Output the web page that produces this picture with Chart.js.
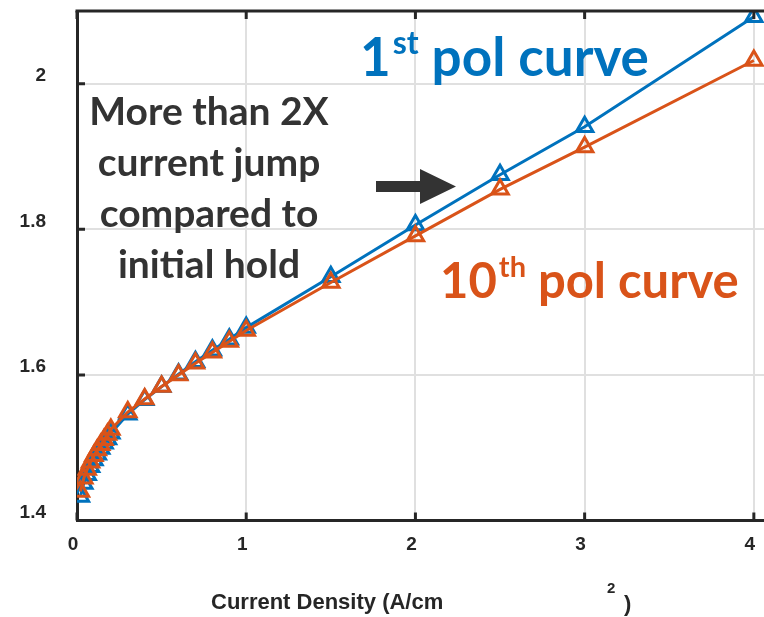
<!DOCTYPE html>
<html lang="en">
<head>
  <meta charset="UTF-8" />
  <title>Pol curves</title>
  <script src="https://cdn.jsdelivr.net/npm/chart.js"></script>
  <style>
    html, body { margin: 0; padding: 0; background: #fff; }
    canvas { display: block; }
  </style>
</head>
<body>
  <canvas id="grafica" width="764" height="617"></canvas>

  <script>
    // current density (A/cm2)
    const current = [0.02, 0.04, 0.06, 0.08, 0.1, 0.12, 0.14, 0.16, 0.18, 0.2,
                     0.3, 0.4, 0.5, 0.6, 0.7, 0.8, 0.9, 1.0, 1.5, 2.0, 2.5, 3.0, 4.0];
    // cell voltage, 1st and 10th pol curve
    const pol1 = [1.433, 1.451, 1.463, 1.474, 1.483, 1.491, 1.499, 1.506, 1.512, 1.520,
                  1.546, 1.566, 1.584, 1.601, 1.618, 1.634, 1.649, 1.665, 1.735, 1.806, 1.875, 1.941, 2.092];
    const pol10 = [1.440, 1.458, 1.470, 1.480, 1.489, 1.497, 1.504, 1.511, 1.518, 1.525,
                   1.549, 1.567, 1.584, 1.600, 1.616, 1.631, 1.646, 1.661, 1.727, 1.791, 1.855, 1.913, 2.032];
    const xTicks = [0, 1, 2, 3, 4];
    const yTicks = [1.4, 1.6, 1.8, 2];

    const AXIS = '#262626';
    const BLUE = '#0072BD';
    const ORANGE = '#D95319';
    const tickFont = { family: 'Liberation Sans', weight: 'bold', size: 19 };

    // inner tick marks, top border, annotations and axis title
    const extras = {
      id: 'extras',
      afterDraw(chart) {
        const { ctx, chartArea: a, scales: { x, y } } = chart;
        ctx.save();
        ctx.strokeStyle = AXIS;
        ctx.lineWidth = 3;
        ctx.beginPath();
        ctx.moveTo(a.left - 1.5, a.top);
        ctx.lineTo(a.right, a.top);
        ctx.stroke();

        ctx.beginPath();
        yTicks.forEach(v => {
          const py = y.getPixelForValue(v);
          ctx.moveTo(a.left, py); ctx.lineTo(a.left + 8, py);
        });
        xTicks.forEach(v => {
          const px = x.getPixelForValue(v);
          ctx.moveTo(px, a.bottom); ctx.lineTo(px, a.bottom - 8);
          ctx.moveTo(px, a.top); ctx.lineTo(px, a.top + 8);
        });
        ctx.stroke();

        // annotation text
        ctx.fillStyle = '#333333';
        ctx.textAlign = 'center';
        ctx.textBaseline = 'alphabetic';
        ctx.font = 'bold 39px Lato';
        const lines = ['More than 2X', 'current jump', 'compared to', 'initial hold'];
        lines.forEach((t, i) => ctx.fillText(t, 209, 125 + i * 51));

        // arrow
        ctx.beginPath();
        ctx.moveTo(376, 181);
        ctx.lineTo(420, 181);
        ctx.lineTo(420, 169);
        ctx.lineTo(456, 186.5);
        ctx.lineTo(420, 204);
        ctx.lineTo(420, 192);
        ctx.lineTo(376, 192);
        ctx.closePath();
        ctx.fill();

        // series labels
        function label(big, sup, rest, left, base, size, color) {
          ctx.fillStyle = color;
          ctx.textAlign = 'left';
          ctx.font = `bold ${size}px Lato`;
          ctx.fillText(big, left, base);
          let cx = left + ctx.measureText(big).width + 2;
          ctx.font = `bold ${Math.round(size * 0.6)}px Lato`;
          ctx.fillText(sup, cx, base - size * 0.42);
          cx += ctx.measureText(sup).width;
          ctx.font = `bold ${size}px Lato`;
          ctx.fillText(rest, cx, base);
        }
        label('1', 'st', ' pol curve', 360, 76, 53, BLUE);
        label('10', 'th', ' pol curve', 440, 298, 49, ORANGE);

        // x axis title
        ctx.fillStyle = AXIS;
        ctx.font = 'bold 22px Liberation Sans';
        ctx.fillText('Current Density (A/cm', 211, 609);
        ctx.font = 'bold 15px Liberation Sans';
        ctx.fillText('2', 607, 593);
        ctx.font = 'bold 22px Liberation Sans';
        ctx.fillText(')', 624, 611);
        ctx.restore();
      }
    };

    const pts = ys => current.map((c, i) => ({ x: c, y: ys[i] }));

    function noPad(s) {
      s.paddingTop = 0; s.paddingBottom = 0; s.paddingLeft = 0; s.paddingRight = 0;
    }

    function series(label, values, color, order) {
      return {
        label: label,
        data: pts(values),
        borderColor: color,
        backgroundColor: 'rgba(0,0,0,0)',
        borderWidth: 3,
        pointStyle: 'triangle',
        pointRadius: 9.5,
        pointBorderWidth: 3,
        pointBorderColor: color,
        pointBackgroundColor: 'rgba(0,0,0,0)',
        order: order
      };
    }

    new Chart(document.getElementById('grafica').getContext('2d'), {
      type: 'line',
      data: {
        datasets: [
          series('1st pol curve', pol1, BLUE, 2),
          series('10th pol curve', pol10, ORANGE, 1)
        ]
      },
      options: {
        responsive: false,
        animation: false,
        layout: { autoPadding: false, padding: { top: 11, right: 0, left: 0, bottom: 0 } },
        plugins: { legend: { display: false }, tooltip: { enabled: false } },
        scales: {
          x: {
            type: 'linear',
            min: 0,
            max: 4.06,
            afterBuildTicks: s => { s.ticks = xTicks.map(v => ({ value: v })); },
            afterFit: s => { s.height = 96.5; noPad(s); },
            grid: { color: '#e0e0e0', lineWidth: 2, drawTicks: false },
            border: { display: true, color: AXIS, width: 3 },
            ticks: { font: tickFont, color: AXIS, padding: 13, labelOffset: -4, maxRotation: 0,
                     callback: v => String(v) }
          },
          y: {
            min: 1.4,
            max: 2.1,
            afterBuildTicks: s => { s.ticks = yTicks.map(v => ({ value: v })); },
            afterFit: s => { s.width = 77; noPad(s); },
            grid: { color: '#e0e0e0', lineWidth: 2, drawTicks: false },
            border: { display: true, color: AXIS, width: 3 },
            ticks: { font: tickFont, color: AXIS, padding: 31, labelOffset: -8,
                     callback: v => String(v) }
          }
        }
      },
      plugins: [extras]
    });
  </script>
</body>
</html>
